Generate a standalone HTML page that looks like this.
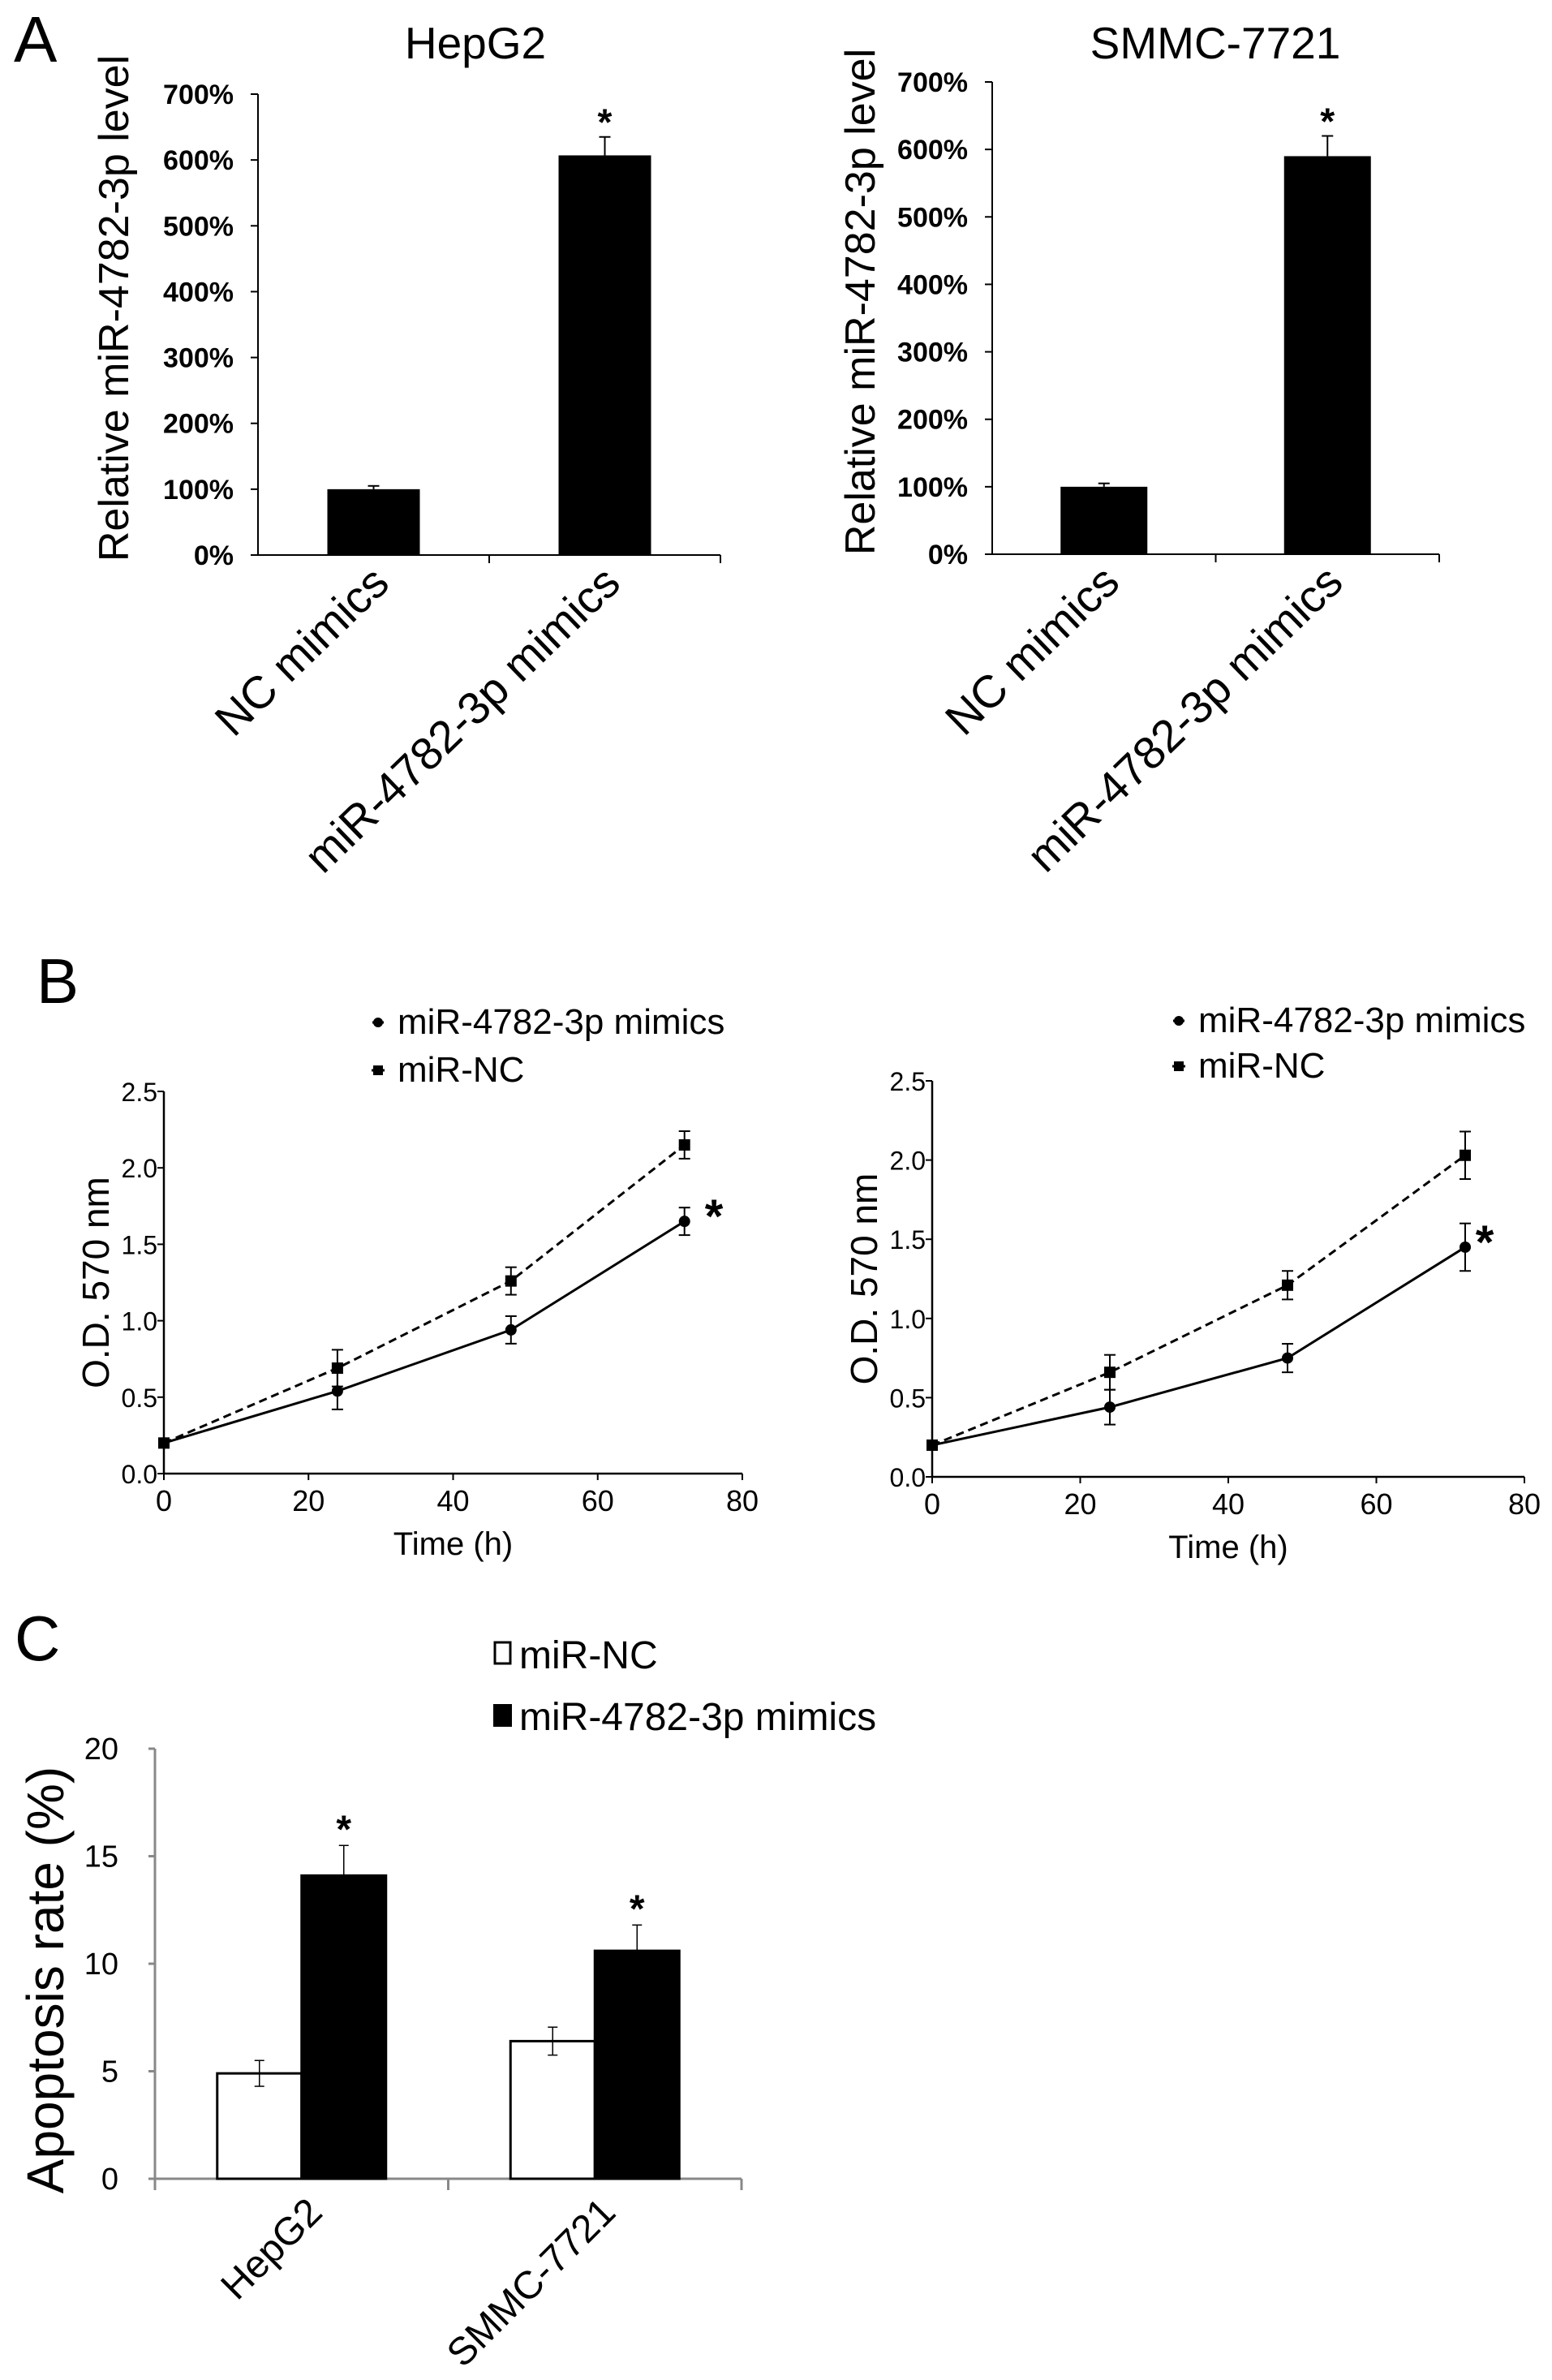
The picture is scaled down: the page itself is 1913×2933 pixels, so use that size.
<!DOCTYPE html>
<html><head><meta charset="utf-8"><style>
html,body{margin:0;padding:0;background:#fff}
svg{display:block;font-family:"Liberation Sans",Arial,sans-serif}
</style></head><body>
<svg id="fig" width="1913" height="2933" viewBox="0 0 1913 2933" xmlns="http://www.w3.org/2000/svg">
<text x="17" y="76" font-size="80">A</text>
<text x="45" y="1236" font-size="78">B</text>
<text x="18" y="2046" font-size="78">C</text>
</svg>
<script>
// ---------- Panel A data ----------
const aCategories = ["NC mimics", "miR-4782-3p mimics"];
const aTicks = [0,100,200,300,400,500,600,700];
const aHepValues = [100, 607];
const aHepErr = [5, 28];
const aSmmcValues = [100, 590];
const aSmmcErr = [5, 30];
// ---------- Panel B data ----------
const bTimes = [0, 24, 48, 72];
const bXTicks = [0, 20, 40, 60, 80];
const bYTicks = [0.0, 0.5, 1.0, 1.5, 2.0, 2.5];
const bHepMimics = [0.2, 0.54, 0.94, 1.65];
const bHepMimicsErr = [0, 0.12, 0.09, 0.09];
const bHepNC = [0.2, 0.69, 1.26, 2.15];
const bHepNCErr = [0, 0.12, 0.09, 0.09];
const bSmmcMimics = [0.2, 0.44, 0.75, 1.45];
const bSmmcMimicsErr = [0, 0.11, 0.09, 0.15];
const bSmmcNC = [0.2, 0.66, 1.21, 2.03];
const bSmmcNCErr = [0, 0.11, 0.09, 0.15];
// ---------- Panel C data ----------
const cCategories = ["HepG2", "SMMC-7721"];
const cTicks = [0, 5, 10, 15, 20];
const cNC = [4.9, 6.4];
const cNCErr = [0.6, 0.65];
const cMimics = [14.1, 10.6];
const cMimicsErr = [1.4, 1.2];

const NS = "http://www.w3.org/2000/svg";
const svg = document.getElementById("fig");
function mk(tag, attrs, parent, txt){
  const e = document.createElementNS(NS, tag);
  for (const k in attrs) e.setAttribute(k, attrs[k]);
  if (txt !== undefined) e.textContent = txt;
  (parent || svg).appendChild(e);
  return e;
}
function grp(name){
  const g = mk("g", {});
  
  
  return g;
}

// ---------- Panel A ----------
function barA(o){
  const g = grp(o.name);
  const y = v => o.y0 - (v / 700) * (o.y0 - o.y700);
  const t = mk("text", {x:o.titleX, y:72, "font-size":55, "text-anchor":"middle"}, g, o.title);
  
  
  mk("line", {x1:o.ax, y1:y(700), x2:o.ax, y2:o.y0, stroke:"#000", "stroke-width":2}, g);
  mk("line", {x1:o.ax, y1:o.y0, x2:o.axEnd, y2:o.y0, stroke:"#000", "stroke-width":2}, g);
  aTicks.forEach(v => {
    mk("line", {x1:o.ax-9, y1:y(v), x2:o.ax, y2:y(v), stroke:"#000", "stroke-width":2}, g);
    const tl = mk("text", {x:o.ax-30, y:y(v)+12, "font-size":34, "font-weight":"bold", "text-anchor":"end"}, g, v + "%");
    
    
  });
  [o.ax + (o.axEnd-o.ax)/2, o.axEnd].forEach(x => mk("line", {x1:x, y1:o.y0, x2:x, y2:o.y0+10, stroke:"#000", "stroke-width":2}, g));
  const yl = mk("text", {x:0, y:0, "font-size":52, "text-anchor":"middle", transform:`translate(${o.ylX},${(y(700)+o.y0)/2-20}) rotate(-90)`}, g, "Relative miR-4782-3p level");
  
  
  const step = (o.axEnd - o.ax) / 2;
  o.values.forEach((v, i) => {
    const cx = o.ax + step*(i+0.5);
    const b = mk("rect", {x:cx-o.bw/2, y:y(v), width:o.bw, height:o.y0-y(v), fill:"#000"}, g);
    
    
    const e = o.err[i];
    mk("line", {x1:cx, y1:y(v), x2:cx, y2:y(v+e), stroke:"#000", "stroke-width":2}, g);
    mk("line", {x1:cx-7, y1:y(v+e), x2:cx+7, y2:y(v+e), stroke:"#000", "stroke-width":2}, g);
    if (i === 1) {
      const s = mk("text", {x:cx, y:y(v+e)-2, "font-size":46, "font-weight":"bold", "text-anchor":"middle"}, g, "*");
      
      
    }
    const cl = mk("text", {x:0, y:0, "font-size":56, "text-anchor":"end", transform:`translate(${cx+22},${o.y0+38}) rotate(-44)`}, g, aCategories[i]);
    
    
  });
}
barA({name:"chart-a-hepg2", title:"HepG2", titleX:586, ax:318, axEnd:888, y0:684, y700:116, bw:114, values:aHepValues, err:aHepErr, ylX:158});
barA({name:"chart-a-smmc", title:"SMMC-7721", titleX:1498, ax:1223, axEnd:1774, y0:683, y700:101, bw:107, values:aSmmcValues, err:aSmmcErr, ylX:1078});

// ---------- Panel B ----------
function lineB(o){
  const g = grp(o.name);
  const x = t => o.ax + (t/80) * (o.x80 - o.ax);
  const y = v => o.y0 - (v/2.5) * (o.y0 - o.y25);
  mk("line", {x1:o.ax, y1:y(2.5), x2:o.ax, y2:o.y0, stroke:"#000", "stroke-width":2.5}, g);
  mk("line", {x1:o.ax, y1:o.y0, x2:x(80), y2:o.y0, stroke:"#000", "stroke-width":2.5}, g);
  bYTicks.forEach(v => {
    mk("line", {x1:o.ax-8, y1:y(v), x2:o.ax, y2:y(v), stroke:"#000", "stroke-width":2}, g);
    const tl = mk("text", {x:o.ax-8, y:y(v)+12, "font-size":32, "text-anchor":"end"}, g, v.toFixed(1));
    
    
  });
  bXTicks.forEach(t => {
    mk("line", {x1:x(t), y1:o.y0, x2:x(t), y2:o.y0+8, stroke:"#000", "stroke-width":2}, g);
    const tl = mk("text", {x:x(t), y:o.y0+46, "font-size":36, "text-anchor":"middle"}, g, t);
    
    
  });
  const xt = mk("text", {x:(o.ax+x(80))/2, y:o.y0+100, "font-size":40, "text-anchor":"middle"}, g, "Time (h)");
  
  
  const yt = mk("text", {x:0, y:0, "font-size":46, "text-anchor":"middle", transform:`translate(${o.ax-68},${(o.y0+y(2.5))/2}) rotate(-90)`}, g, "O.D. 570 nm");
  
  
  function series(vals, errs, dash, marker, name){
    const pts = vals.map((v,i) => x(bTimes[i]) + "," + y(v)).join(" ");
    const p = mk("polyline", {points:pts, fill:"none", stroke:"#000", "stroke-width":3, "stroke-dasharray":dash}, g);
    
    
    vals.forEach((v,i) => {
      const cx = x(bTimes[i]), e = errs[i];
      if (e > 0) {
        mk("line", {x1:cx, y1:y(v-e), x2:cx, y2:y(v+e), stroke:"#000", "stroke-width":2}, g);
        mk("line", {x1:cx-7, y1:y(v+e), x2:cx+7, y2:y(v+e), stroke:"#000", "stroke-width":2}, g);
        mk("line", {x1:cx-7, y1:y(v-e), x2:cx+7, y2:y(v-e), stroke:"#000", "stroke-width":2}, g);
      }
      const m = marker === "sq" ? mk("rect", {x:cx-7, y:y(v)-7, width:14, height:14, fill:"#000"}, g)
                                : mk("circle", {cx:cx, cy:y(v), r:7, fill:"#000"}, g);
      
      
    });
  }
  series(o.nc, o.ncErr, "10,6", "sq", "mir-nc");
  series(o.mim, o.mimErr, "none", "ci", "mimics");
  const st = mk("text", {x:o.starX, y:y(o.mim[3])+14, "font-size":58, "font-weight":"bold", "text-anchor":"middle"}, g, "*");
  
  
  const lg = mk("g", {}, g);
  
  
  mk("circle", {cx:o.lgX, cy:o.lgY1-14, r:6, fill:"#000"}, lg);
  mk("line", {x1:o.lgX-7, y1:o.lgY1-14, x2:o.lgX+7, y2:o.lgY1-14, stroke:"#000", "stroke-width":3}, lg);
  const l1 = mk("text", {x:o.lgX+24, y:o.lgY1, "font-size":44}, lg, "miR-4782-3p mimics");
  
  
  mk("rect", {x:o.lgX-6, y:o.lgY2-20, width:12, height:12, fill:"#000"}, lg);
  mk("line", {x1:o.lgX-8, y1:o.lgY2-14, x2:o.lgX+8, y2:o.lgY2-14, stroke:"#000", "stroke-width":3}, lg);
  const l2 = mk("text", {x:o.lgX+24, y:o.lgY2, "font-size":44}, lg, "miR-NC");
  
  
}
lineB({name:"chart-b-hepg2", ax:202, x80:915, y0:1816, y25:1345, nc:bHepNC, ncErr:bHepNCErr, mim:bHepMimics, mimErr:bHepMimicsErr, starX:880, lgX:466, lgY1:1274, lgY2:1333});
lineB({name:"chart-b-smmc", ax:1149, x80:1879, y0:1820, y25:1332, nc:bSmmcNC, ncErr:bSmmcNCErr, mim:bSmmcMimics, mimErr:bSmmcMimicsErr, starX:1830, lgX:1453, lgY1:1272, lgY2:1328});

// ---------- Panel C ----------
(function(){
  const g = grp("chart-c-apoptosis");
  const ax = 191, axEnd = 914, y0 = 2685, y20 = 2155;
  const y = v => y0 - (v/20) * (y0 - y20);
  mk("line", {x1:ax, y1:y20, x2:ax, y2:y0+14, stroke:"#888", "stroke-width":3}, g);
  mk("line", {x1:ax, y1:y0, x2:axEnd, y2:y0, stroke:"#888", "stroke-width":3}, g);
  cTicks.forEach(v => {
    mk("line", {x1:ax-8, y1:y(v), x2:ax, y2:y(v), stroke:"#888", "stroke-width":3}, g);
    const tl = mk("text", {x:146, y:y(v)+13, "font-size":38, "text-anchor":"end"}, g, v);
    
    
  });
  const step = (axEnd - ax) / 2;
  mk("line", {x1:ax+step, y1:y0, x2:ax+step, y2:y0+14, stroke:"#888", "stroke-width":3}, g);
  mk("line", {x1:axEnd, y1:y0, x2:axEnd, y2:y0+14, stroke:"#888", "stroke-width":3}, g);
  const yt = mk("text", {x:0, y:0, "font-size":64, "text-anchor":"middle", transform:`translate(78,2440) rotate(-90)`}, g, "Apoptosis rate (%)");
  
  
  const bw = 104;
  cCategories.forEach((c, i) => {
    const cx = ax + step*(i+0.5);
    [[cNC[i], cNCErr[i], -1, "#fff", "nc"], [cMimics[i], cMimicsErr[i], 0, "#000", "mimics"]].forEach(([v, e, off, fill, nm]) => {
      const bx = cx + off*bw;
      const r = mk("rect", {x:bx, y:y(v), width:bw, height:y0-y(v), fill:fill, stroke:"#000", "stroke-width":3}, g);
      
      
      const ex = bx + bw/2;
      mk("line", {x1:ex, y1:y(v-e), x2:ex, y2:y(v+e), stroke:"#000", "stroke-width":1.5}, g);
      mk("line", {x1:ex-6, y1:y(v+e), x2:ex+6, y2:y(v+e), stroke:"#000", "stroke-width":1.5}, g);
      mk("line", {x1:ex-6, y1:y(v-e), x2:ex+6, y2:y(v-e), stroke:"#000", "stroke-width":1.5}, g);
      if (nm === "mimics") {
        const s = mk("text", {x:ex, y:y(v+e)-4, "font-size":48, "font-weight":"bold", "text-anchor":"middle"}, g, "*");
        
        
      }
    });
    const cl = mk("text", {x:0, y:0, "font-size":48, "text-anchor":"end", transform:`translate(${cx+28},${y0+44}) rotate(-45)`}, g, c);
    
    
  });
  const lg = mk("g", {}, g);
  
  
  mk("rect", {x:610, y:2024, width:19, height:26, fill:"#fff", stroke:"#000", "stroke-width":3}, lg);
  const l1 = mk("text", {x:640, y:2056, "font-size":48}, lg, "miR-NC");
  
  
  mk("rect", {x:608, y:2100, width:23, height:28, fill:"#000"}, lg);
  const l2 = mk("text", {x:640, y:2132, "font-size":48}, lg, "miR-4782-3p mimics");
  
  
})();
</script>
</body></html>
